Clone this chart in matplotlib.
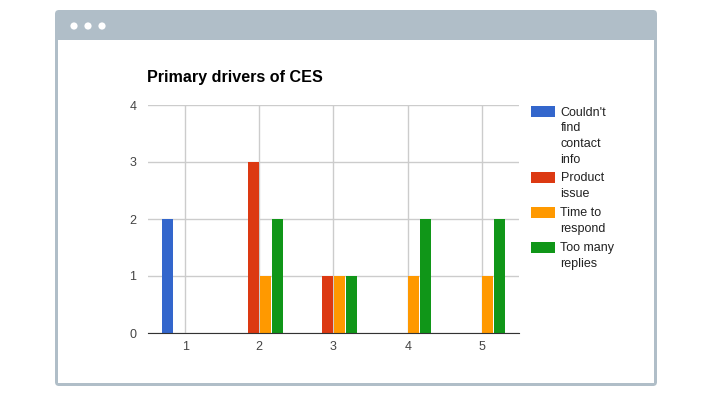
import matplotlib.pyplot as plt
from matplotlib.patches import FancyBboxPatch, Rectangle, Circle
import numpy as np

plt.rcParams['font.family'] = ['Liberation Sans', 'DejaVu Sans']

# data
categories = [1, 2, 3, 4, 5]
series = ["Couldn't find contact info", "Product issue", "Time to respond", "Too many replies"]
legend_labels = ["Couldn't\nfind\ncontact\ninfo", "Product\nissue", "Time to\nrespond", "Too many\nreplies"]
couldnt_find = [2, 0, 0, 0, 0]
product_issue = [0, 3, 1, 0, 0]
time_to_respond = [0, 1, 1, 1, 1]
too_many_replies = [0, 2, 1, 2, 2]
colors = ['#3366cc', '#dc3912', '#ff9900', '#109618']

W, H = 712, 396
fig = plt.figure(figsize=(W / 100, H / 100), dpi=100)

def px(x, y):
    # image pixel (from top-left) -> figure fraction
    return x / W, 1 - y / H

# browser window frame
outer = FancyBboxPatch((55, H - 386), 602, 376, boxstyle="round,pad=0,rounding_size=4",
                       transform=None, facecolor='#b0bec8', edgecolor='none', zorder=0)
fig.add_artist(outer)
fig.add_artist(Rectangle((58, H - 383), 596, 343, transform=None,
                         facecolor='white', edgecolor='none', zorder=1))
for dx in [74, 88, 102]:
    fig.add_artist(Circle((dx, H - 26), 3.6, transform=None,
                          facecolor='white', edgecolor='none', zorder=2))

# chart area
l, b = px(148, 333)
r, t = px(519, 105)
ax = fig.add_axes([l, b, r - l, t - b])
ax.set_zorder(3)
ax.patch.set_alpha(0)

x = np.array(categories)
step = 12 / 74
width = 11 / 74
all_vals = [couldnt_find, product_issue, time_to_respond, too_many_replies]
for i, (vals, c) in enumerate(zip(all_vals, colors)):
    ax.bar(x + (i - 1.5) * step, vals, width=width, color=c, zorder=3)

ax.set_xlim(0.5, 5.5)
ax.set_ylim(0, 4)
ax.set_xticks(categories)
ax.set_yticks([0, 1, 2, 3, 4])
ax.grid(True, color='#cccccc', linewidth=1, zorder=0)
ax.set_axisbelow(True)
for s in ['top', 'right', 'left']:
    ax.spines[s].set_visible(False)
ax.spines['bottom'].set_color('#333333')
ax.spines['bottom'].set_zorder(4)
ax.tick_params(length=0, labelsize=9, labelcolor='#444444')
ax.tick_params(axis='y', pad=8.5)
ax.tick_params(axis='x', pad=6)

fig.text(*px(147, 70), "Primary drivers of CES", fontsize=11.6, fontweight='bold',
         color='#000000', va='top', ha='left', zorder=5)

# legend drawn by hand to match multi-line layout
y = 106
for lab, c in zip(legend_labels, colors):
    fig.add_artist(Rectangle((531, H - (y + 11)), 24, 11, transform=None,
                             facecolor=c, edgecolor='none', zorder=5))
    fig.text(*px(560.5, y + 0.5), lab, fontsize=9, color='#222222', va='top', ha='left',
             linespacing=1.42, zorder=5)
    y += lab.count('\n') * 15.5 + 15.5 + 4

fig.savefig('out.png', dpi=100)
